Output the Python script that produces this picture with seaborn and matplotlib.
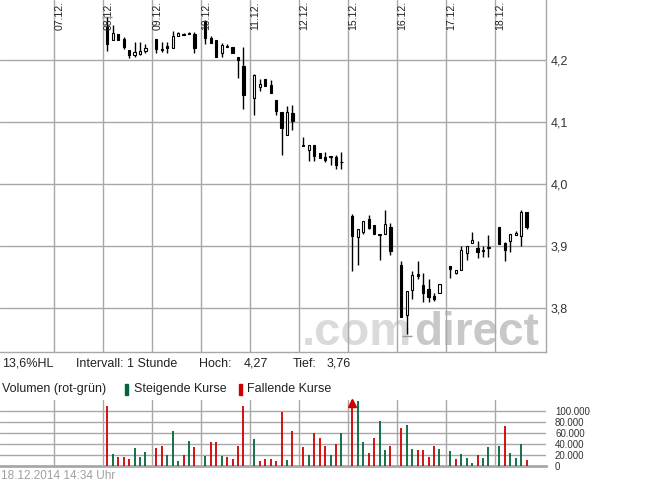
import numpy as np
import matplotlib
matplotlib.use("Agg")
import matplotlib.pyplot as plt
import seaborn as sns
from matplotlib.patches import Rectangle

# Handelstage (07.12. ohne Kurse)
tage = ["07.12.", "08.12.", "09.12.", "10.12.", "11.12.", "12.12.",
        "15.12.", "16.12.", "17.12.", "18.12."]
kerzen_pro_tag = [0, 8, 8, 8, 8, 8, 8, 8, 8, 6]

# Stundenkerzen (Open / High / Low / Close)
eroeffnung = [4.253, 4.233, 4.242, 4.234, 4.217, 4.2086, 4.210, 4.2156,
              4.234, 4.218, 4.2237, 4.220, 4.240, 4.2425, 4.2425, 4.243,
              4.2613, 4.2355, 4.2323, 4.2113, 4.2231, 4.2215, 4.2054, 4.1909,
              4.1398, 4.1565, 4.1694, 4.1597, 4.1366, 4.1161, 4.0801, 4.1151,
              4.0630, 4.0559, 4.0629, 4.0505, 4.0435, 4.0444, 4.0446, 4.0353,
              3.9489, 3.9154, 3.9234, 3.9447, 3.934, 3.9190, 3.9191, 3.9319,
              3.8702, 3.7894, 3.8298, 3.8559, 3.8383, 3.8309, 3.8197, 3.8245,
              3.8681, 3.8574, 3.8612, 3.8888, 3.9048, 3.8968, 3.8945, 3.8979,
              3.9309, 3.9048, 3.909, 3.9176, 3.916, 3.9559]
hoch = [4.270, 4.257, 4.243, 4.237, 4.217, 4.2296, 4.230, 4.227,
        4.235, 4.230, 4.230, 4.247, 4.245, 4.2435, 4.246, 4.245,
        4.265, 4.2392, 4.2323, 4.2285, 4.2258, 4.2215, 4.2054, 4.2215,
        4.1774, 4.1694, 4.1694, 4.1677, 4.1366, 4.1161, 4.1258, 4.1274,
        4.0760, 4.0629, 4.0629, 4.0505, 4.0516, 4.0446, 4.0473, 4.0516,
        3.9516, 3.9287, 3.941, 3.950, 3.934, 3.9193, 3.958, 3.9383,
        3.8766, 3.8282, 3.8606, 3.8755, 3.8574, 3.8468, 3.825, 3.8394,
        3.8681, 3.8617, 3.901, 3.901, 3.9229, 3.9085, 3.9005, 3.9181,
        3.9309, 3.9074, 3.9191, 3.9245, 3.959, 3.9559]
tief = [4.215, 4.233, 4.232, 4.219, 4.204, 4.206, 4.209, 4.211,
        4.211, 4.214, 4.2124, 4.220, 4.240, 4.2415, 4.2425, 4.2125,
        4.2258, 4.2285, 4.2059, 4.2048, 4.2215, 4.2113, 4.172, 4.121,
        4.1124, 4.1505, 4.1591, 4.1468, 4.1124, 4.0473, 4.0801, 4.0882,
        4.0624, 4.0382, 4.0382, 4.0425, 4.0360, 4.0312, 4.0242, 4.0242,
        3.8596, 3.8691, 3.9197, 3.9277, 3.9191, 3.8782, 3.9191, 3.8862,
        3.7862, 3.7585, 3.8149, 3.8468, 3.8106, 3.8106, 3.8117, 3.8245,
        3.8489, 3.8559, 3.8612, 3.8782, 3.9048, 3.8809, 3.882, 3.8835,
        3.9043, 3.8755, 3.8915, 3.9176, 3.900, 3.9277]
schluss = [4.226, 4.244, 4.233, 4.222, 4.208, 4.214, 4.215, 4.2204,
           4.218, 4.2165, 4.2194, 4.240, 4.244, 4.2415, 4.243, 4.220,
           4.2355, 4.2285, 4.2059, 4.2247, 4.2215, 4.2113, 4.201, 4.1446,
           4.1758, 4.1613, 4.1591, 4.1478, 4.1183, 4.0914, 4.1172, 4.1022,
           4.0624, 4.0629, 4.0457, 4.0425, 4.0387, 4.0446, 4.0317, 4.0355,
           3.917, 3.9287, 3.941, 3.9303, 3.9191, 3.9193, 3.9356, 3.8931,
           3.7862, 3.8282, 3.8537, 3.8516, 3.825, 3.8176, 3.8149, 3.8394,
           3.8628, 3.8617, 3.8941, 3.901, 3.9096, 3.8915, 3.8925, 3.8984,
           3.9043, 3.8941, 3.9191, 3.9213, 3.9553, 3.9314]

# Volumen je Stunde
volumen = [108500, 21200, 15800, 15800, 12100, 32100, 15800, 24800,
           32100, 35800, 19400, 63000, 8500, 19400, 44800, 33900,
           17600, 43000, 43000, 17600, 15800, 12100, 35800, 108500,
           48500, 8500, 12100, 12100, 8500, 97600, 10300, 63000,
           33900, 19400, 59400, 50300, 35800, 19400, 39400, 59400,
           135000, 118000, 43000, 23000, 50300, 81200, 28500, 35800,
           68500, 73900, 30300, 28500, 28500, 15800, 35800, 30300,
           26700, 12100, 21200, 13900, 4800, 19400, 13900, 33900,
           35800, 72100, 23000, 13900, 39400, 10300]

kurs_ticks = [3.8, 3.9, 4.0, 4.1, 4.2]
kurs_labels = ["3,8", "3,9", "4,0", "4,1", "4,2"]
vol_ticks = [0, 20000, 40000, 60000, 80000, 100000]
vol_labels = ["0", "20.000", "40.000", "60.000", "80.000", "100.000"]

sns.set_theme(style="white")
plt.rcParams['font.family'] = ['Liberation Sans', 'DejaVu Sans']

W, H = 645, 483
def fx(x):
    return x / W
def fy(y):
    return 1 - y / H

# x-Position jeder Kerze: Tag + Stunde
x = []
for d, n in enumerate(kerzen_pro_tag):
    for s in range(n):
        x.append(d + (s + 0.8) / 9)
x = np.array(x)
o = np.array(eroeffnung); c = np.array(schluss)
hi = np.array(hoch); lo = np.array(tief)
vol = np.array(volumen)

vorher = np.concatenate([[o[0]], c[:-1]])
steigend = c > vorher

grid_col = '#a8a8a8'
xlim = (-54 / 49, 492 / 49)

fig = plt.figure(figsize=(6.45, 4.83), dpi=100)
ax = fig.add_axes([0, fy(352), fx(546), 352 / H])
axv = fig.add_axes([0, fy(466), fx(546), 66 / H])

#### Kurschart
ax.set_xlim(*xlim)
ax.set_ylim(4.2 - (352 - 60.3) / 620, 4.2 + 60.3 / 620)
for d in range(len(tage)):
    ax.axvline(d, color=grid_col, lw=1, zorder=1)
for t in kurs_ticks:
    ax.axhline(t, color=grid_col, lw=1, zorder=1)

# Wasserzeichen
wz1 = ax.text(fx(302) / fx(546), 0.02, ".com", transform=ax.transAxes,
              fontsize=34, fontweight='bold', color='#dadada', ha='left', va='baseline', zorder=0.5)
fig.canvas.draw()
bb = wz1.get_window_extent()
ax.text(fx(bb.x1 + 2) / fx(546), 0.02, "direct", transform=ax.transAxes,
        fontsize=33, fontweight='bold', color='#c8c8c8', ha='left', va='baseline', zorder=0.5)

ax.vlines(x, lo, hi, color='black', lw=1, zorder=3)
koerper = np.maximum(np.abs(c - o), 0.0008)
ax.bar(x, koerper, bottom=np.minimum(o, c), width=0.045,
       color=np.where(c < o, 'black', 'white'), edgecolor='black', linewidth=0.8, zorder=4)

# Hoch / Tief Markierung
i_h = np.argmax(hi); i_t = np.argmin(lo)
ax.hlines([hi[i_h], lo[i_t] - 0.0025], [x[i_h] - 0.1, x[i_t] - 0.1], [x[i_h] + 0.1, x[i_t] + 0.1],
          color='#999999', lw=1, zorder=2)

for d, t in enumerate(tage):
    ax.text(d + 5.5 / 49, 0.997, t, transform=ax.get_xaxis_transform(), rotation=90,
            ha='center', va='top', fontsize=7.5, color='#222222', zorder=6)

ax.yaxis.tick_right()
ax.set_yticks(kurs_ticks)
ax.set_yticklabels(kurs_labels)
ax.tick_params(axis='y', length=0, pad=3.5, labelsize=9, labelcolor='#333333')
ax.set_xticks([])
for s in ['top', 'left']:
    ax.spines[s].set_visible(False)
for s in ['right', 'bottom']:
    ax.spines[s].set_color(grid_col)
    ax.spines[s].set_linewidth(1)

#### Volumen
vmax = 65.7 / 11 * 20000
axv.set_xlim(*xlim)
axv.set_ylim(0, vmax)
for d in range(len(tage)):
    axv.axvline(d, color=grid_col, lw=1, zorder=1)
for t in vol_ticks[1:]:
    axv.axhline(t, color=grid_col, lw=1, zorder=1)
farben = np.where(steigend, '#00673a', '#d00000')
axv.vlines(x, 0, np.minimum(vol, vmax), colors=farben, lw=1.3, zorder=3)
zu_hoch = vol > vmax
axv.plot(x[zu_hoch], np.full(zu_hoch.sum(), vmax * 0.955), marker='^', ms=5.5,
         color='#d00000', ls='none', zorder=4, clip_on=False)

axv.yaxis.tick_right()
axv.set_yticks(vol_ticks)
axv.set_yticklabels(vol_labels)
axv.tick_params(axis='y', length=0, pad=6.5, labelsize=7, labelcolor='#333333')
axv.set_xticks([])
for s in ['top', 'left', 'right']:
    axv.spines[s].set_visible(False)
axv.spines['bottom'].set_color(grid_col)
axv.spines['bottom'].set_linewidth(2)

#### Texte
info = [(2, "13,6%HL"), (76, "Intervall: 1 Stunde"), (199, "Hoch:"), (244, "4,27"),
        (293, "Tief:"), (327, "3,76")]
for px, t in info:
    fig.text(fx(px), fy(364), t, fontsize=9, color='#222222', va='center', ha='left')

fig.text(fx(2), fy(389), "Volumen (rot-grün)", fontsize=9, color='#222222', va='center')
fig.patches.append(Rectangle((fx(125), fy(395)), 3 / W, 11 / H, transform=fig.transFigure,
                             color='#00673a', figure=fig))
fig.text(fx(134), fy(389), "Steigende Kurse", fontsize=9, color='#222222', va='center')
fig.patches.append(Rectangle((fx(239), fy(395)), 3 / W, 11 / H, transform=fig.transFigure,
                             color='#d00000', figure=fig))
fig.text(fx(247), fy(389), "Fallende Kurse", fontsize=9, color='#222222', va='center')

fig.text(fx(1), fy(476), "18.12.2014 14:34 Uhr", fontsize=8.5, color='#a0a0a0', va='center')

fig.savefig("out.png", dpi=100)
